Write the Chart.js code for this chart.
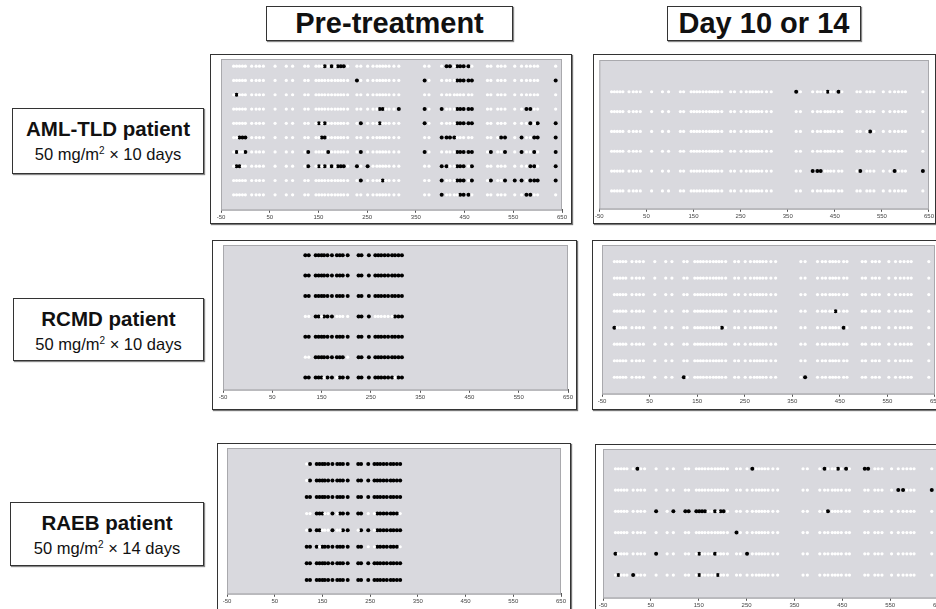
<!DOCTYPE html>
<html>
<head>
<meta charset="utf-8">
<script src="https://cdn.jsdelivr.net/npm/chart.js@4.4.1/dist/chart.umd.min.js"></script>
<style>
  body { margin: 0; width: 936px; height: 609px; overflow: hidden; background: #fff; position: relative;
         font-family: "Liberation Sans", Arial, sans-serif; color: #111; }
  .hdr { position: absolute; border: 1.5px solid #333; box-shadow: 1px 1px 1px #888; background: #fff;
         font-weight: bold; font-size: 29px; text-align: center; box-sizing: border-box; }
  .lbl { position: absolute; border: 1.5px solid #333; box-shadow: 1px 1px 1px #888; background: #fff;
         text-align: center; box-sizing: border-box; }
  .lbl b { display: block; font-size: 20.5px; margin-top: 8px; line-height: 24px; }
  .lbl span { display: block; font-size: 16.5px; margin-top: 2px; line-height: 22px; }
  .lbl sup { font-size: 10px; vertical-align: 6px; line-height: 0; }
  .panel { position: absolute; border: 1px solid #333; box-shadow: 1px 1px 1px #777; background: #fff; box-sizing: border-box; }
  .panel canvas { position: absolute; left: 0; top: 0; }
</style>
</head>
<body>

<div class="hdr" style="left:266px;top:6px;width:247px;height:35px;line-height:32px;">Pre-treatment</div>
<div class="hdr" style="left:667px;top:6px;width:194px;height:35px;line-height:32px;">Day 10 or 14</div>

<div class="lbl" style="left:12px;top:108px;width:192px;height:66px;"><b>AML-TLD patient</b><span>50 mg/m<sup>2</sup> × 10 days</span></div>
<div class="lbl" style="left:13px;top:298px;width:191px;height:63px;"><b>RCMD patient</b><span>50 mg/m<sup>2</sup> × 10 days</span></div>
<div class="lbl" style="left:10px;top:502px;width:194px;height:64px;"><b>RAEB patient</b><span>50 mg/m<sup>2</sup> × 14 days</span></div>

<div class="panel" id="p1" style="left:210px;top:54px;width:362px;height:170px;"><canvas id="c1"></canvas></div>
<div class="panel" id="p2" style="left:593px;top:54px;width:343px;height:170px;"><canvas id="c2"></canvas></div>
<div class="panel" id="p3" style="left:212px;top:240px;width:365px;height:170px;"><canvas id="c3"></canvas></div>
<div class="panel" id="p4" style="left:592px;top:240px;width:350px;height:170px;"><canvas id="c4"></canvas></div>
<div class="panel" id="p5" style="left:217px;top:443px;width:354px;height:175px;"><canvas id="c5"></canvas></div>
<div class="panel" id="p6" style="left:595px;top:444px;width:350px;height:175px;"><canvas id="c6"></canvas></div>

<script>
// x axis tick labels (bp position)
const xTicks = [-50, 50, 150, 250, 350, 450, 550, 650];

// CpG positions, long region (AML-TLD pre / all day 10-14 panels)
const cpgLong = [-24, -18, -12, -6, 0, 13, 22, 29, 37, 61, 84, 97, 122, 129,
  145, 151, 157, 163, 170, 177, 184, 190, 196, 202, 210, 229, 237, 251,
  262, 270, 276, 282, 288, 295, 305, 315, 368, 377,
  403, 413, 420, 429, 435, 441, 448, 458, 465, 497, 504, 518, 525, 533,
  553, 567, 577, 585, 593, 600, 637];

// CpG positions, short region (RCMD / RAEB pre-treatment)
const cpgShort = [117, 124, 138, 144, 150, 155, 162, 171, 181, 187, 193, 203,
  225, 231, 246, 259, 265, 271, 278, 285, 293, 299, 306, 313];

// methylated (black) CpGs per clone
const amlPreMeth = [
  [163, 177, 190, 196, 202, 413, 420, 435, 441, 448, 458],
  [229, 368, 435, 441, 448, 458, 465, 637],
  [-18],
  [276, 282, 315, 368, 403, 435, 441, 448, 458, 465, 577, 585],
  [151, 163, 237, 276, 368, 435, 441, 448, 458, 465, 585, 600, 637],
  [-12, -6, 0, 157, 163, 403, 413, 420, 429, 525, 533, 567, 593, 600, 637],
  [-18, 0, 129, 170, 237, 368, 435, 441, 448, 458, 465, 504, 533, 567, 593, 637],
  [-18, -12, 129, 151, 163, 177, 190, 196, 202, 229, 251, 403, 413, 435, 441, 448, 465, 585, 593, 637],
  [237, 282, 403, 435, 441, 448, 465, 504, 533, 553, 567, 585, 593, 600, 637],
  [403, 441, 448, 458, 577, 585]
];
const amlDayMeth = [
  [368, 435, 458],
  [],
  [525],
  [],
  [403, 413, 420, 504, 577, 637],
  []
];
const rcmdDayMeth = [
  [], [], [], [441], [-24, 202, 458], [], [], [122, 377]
];
const raebDayMeth = [
  [22, 262, 413, 441, 458, 497, 504],
  [567, 577, 637],
  [61, 97, 122, 129, 145, 151, 157, 163, 184, 196, 202, 420],
  [229],
  [-24, 61, 151, 184, 251],
  [-18, 13, 151, 190]
];

// unmethylated (white) CpGs per clone, mostly methylated panels
const rcmdPreUnmeth = [
  [], [], [],
  [117, 124, 150, 181, 187, 193, 203, 259, 265, 271, 278, 285, 293],
  [],
  [117, 124, 203],
  [155, 181, 299]
];
const raebPreUnmeth = [
  [117], [117], [],
  [117, 124, 155, 162, 181, 246, 259, 313],
  [117, 150, 155, 162, 181, 187, 225, 259],
  [144, 246, 259, 313],
  [], []
];

const grayArea = {
  id: 'grayArea',
  beforeDatasetsDraw(chart) {
    const a = chart.chartArea, ctx = chart.ctx;
    ctx.save();
    ctx.fillStyle = '#d9d9de';
    ctx.fillRect(a.left, a.top, a.right - a.left, a.bottom - a.top);
    ctx.strokeStyle = '#a9a9ad';
    ctx.lineWidth = 1;
    ctx.strokeRect(a.left + 0.5, a.top + 0.5, a.right - a.left - 1, a.bottom - a.top);
    ctx.restore();
  }
};

function makePanel(canvasId, cpgs, rows, listIsMeth, yTop, yBottom, pad) {
  const cv = document.getElementById(canvasId);
  const box = cv.parentNode;
  cv.width = box.clientWidth;
  cv.height = box.clientHeight;
  const black = [], white = [];
  rows.forEach((list, r) => {
    cpgs.forEach(pos => {
      const inList = list.includes(pos);
      const meth = listIsMeth ? inList : !inList;
      (meth ? black : white).push({ x: pos, y: r });
    });
  });
  new Chart(cv, {
    type: 'scatter',
    data: {
      datasets: [
        { data: white, backgroundColor: '#ffffff', pointRadius: 1.6, borderWidth: 0 },
        { data: black, backgroundColor: '#000000', pointRadius: 2, borderWidth: 0 }
      ]
    },
    options: {
      responsive: false,
      animation: false,
      devicePixelRatio: 1,
      layout: { padding: pad },
      plugins: { legend: { display: false }, tooltip: { enabled: false } },
      scales: {
        x: {
          type: 'linear', min: -50, max: 650,
          afterBuildTicks: axis => { axis.ticks = xTicks.map(v => ({ value: v })); },
          border: { display: true, color: '#555', width: 1 },
          grid: { display: true, drawOnChartArea: false, drawTicks: true, tickLength: 3, color: '#555' },
          ticks: { font: { size: 6, family: 'Liberation Sans' }, color: '#444', padding: 1, maxRotation: 0, autoSkip: false }
        },
        y: { type: 'linear', reverse: true, min: yTop, max: yBottom, display: false }
      }
    },
    plugins: [grayArea]
  });
}

makePanel('c1', cpgLong, amlPreMeth, true, -0.5, 10.05, { left: 10, top: 3, right: 9, bottom: 1 });
makePanel('c2', cpgLong, amlDayMeth, true, -1.6, 5.9, { left: 3, top: 5, right: 2, bottom: 2 });
makePanel('c3', cpgShort, rcmdPreUnmeth, false, -0.5, 6.6, { left: 10, top: 3, right: 8, bottom: 7 });
makePanel('c4', cpgLong, rcmdDayMeth, true, -1.0, 8.0, { left: 9, top: 3, right: 1, bottom: 3 });
makePanel('c5', cpgShort, raebPreUnmeth, false, -0.96, 7.84, { left: 9, top: 4, right: 9, bottom: 11 });
makePanel('c6', cpgLong, raebDayMeth, true, -0.93, 6.07, { left: 7, top: 3, right: 1, bottom: 8 });
</script>
</body>
</html>
